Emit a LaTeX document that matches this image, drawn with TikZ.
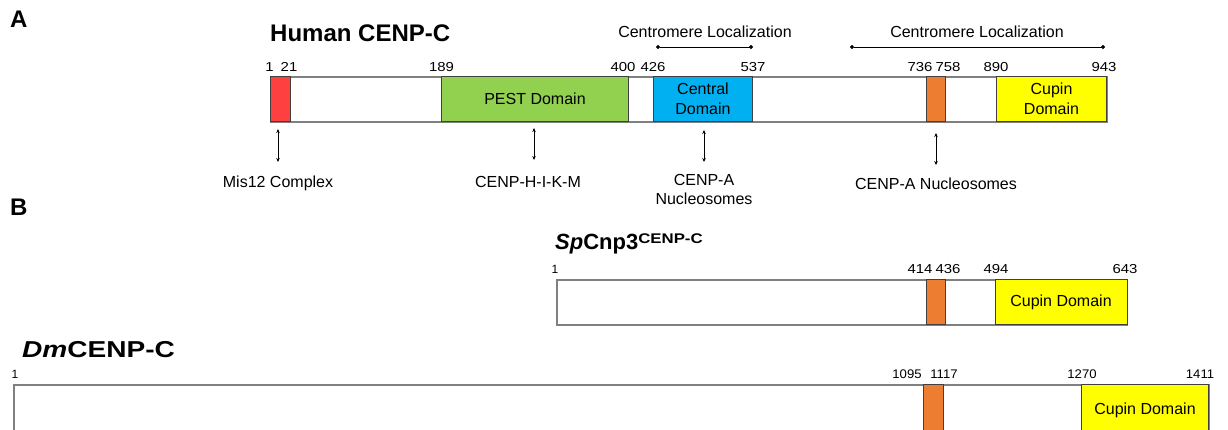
\documentclass[tikz,border=0pt]{standalone}
\usepackage{fontspec}
\usepackage{graphicx}
\setmainfont{Liberation Sans}
\usetikzlibrary{arrows.meta,calc}
\definecolor{cred}{RGB}{255,64,64}
\definecolor{cgreen}{RGB}{146,208,80}
\definecolor{cblue}{RGB}{0,176,240}
\definecolor{corange}{RGB}{237,125,49}
\definecolor{cyellow}{RGB}{255,255,0}
\definecolor{cgray}{RGB}{128,128,128}
\definecolor{cdark}{RGB}{64,64,64}
\newcommand{\wnum}[1]{\scalebox{1.15}[1]{#1}}
\newcommand{\wdm}[1]{\scalebox{1.05}[1]{#1}}
\begin{document}
\begin{tikzpicture}[x=1pt,y=-1pt,
  bar/.style={draw=cgray, line width=1.5pt, fill=white, minimum height=45, inner sep=0pt, anchor=north west},
  dom/.style={draw=cdark, line width=1pt, minimum height=45, inner sep=0pt, anchor=north west,
              font=\fontsize{16}{19.5}\selectfont, align=center},
  num/.style={font=\fontsize{13}{15}\selectfont, anchor=base, inner sep=0pt},
  numsmall/.style={font=\fontsize{12}{14}\selectfont, anchor=base, inner sep=0pt},
  lab/.style={font=\fontsize{16}{19}\selectfont, anchor=base, inner sep=0pt, align=center},
  ttl/.style={font=\fontsize{24}{28}\selectfont\bfseries, anchor=base west, inner sep=0pt},
  panel/.style={font=\fontsize{24}{28}\selectfont\bfseries, anchor=base west, inner sep=0pt},
  dbl/.style={{Stealth[length=4pt,width=3.5pt]}-{Stealth[length=4pt,width=3.5pt]}, line width=0.8pt},
  loc/.style={{Circle[length=4pt]}-{Circle[length=4pt]}, line width=1pt}
]
\useasboundingbox (0,0) rectangle (1228,429);

% ---------- Panel A ----------
\node[panel] (pA) at (10,27) {A};
\node[ttl] (thum) at (270,41) {Human CENP-C};

\node[lab] (cl1) at (705,37) {Centromere Localization};
\node[lab] (cl2) at (977,37) {Centromere Localization};
\coordinate (cl1a) at (656,47);
\coordinate (cl1b) at (753,47);
\coordinate (cl2a) at (850,47);
\coordinate (cl2b) at (1105,47);
\draw[loc] (cl1a) -- (cl1b);
\draw[loc] (cl2a) -- (cl2b);

\node[bar, minimum width=836] (hbar) at (270,76) {};
\node[dom, fill=cred, minimum width=19.5] (hred) at (270,76) {};
\node[dom, fill=cgreen, minimum width=187] (hgreen) at (441,76) {PEST Domain};
\node[dom, fill=cblue, minimum width=99] (hblue) at (653,76) {Central\\Domain};
\node[dom, fill=corange, minimum width=19] (horange) at (926,76) {};
\node[dom, fill=cyellow, minimum width=110] (hyellow) at (996,76) {Cupin\\Domain};

\node[num] (n1) at (269.5,71) {\wnum{1}};
\node[num] (n21) at (289,71) {\wnum{21}};
\node[num] (n189) at (441.5,71) {\wnum{189}};
\node[num] (n400) at (623,71) {\wnum{400}};
\node[num] (n426) at (653,71) {\wnum{426}};
\node[num] (n537) at (753,71) {\wnum{537}};
\node[num] (n736) at (920,71) {\wnum{736}};
\node[num] (n758) at (948,71) {\wnum{758}};
\node[num] (n890) at (996,71) {\wnum{890}};
\node[num] (n943) at (1104,71) {\wnum{943}};

\node[lab] (mis) at (278,187) {Mis12 Complex};
\node[lab] (hikm) at (528,187) {CENP-H-I-K-M};
\node[lab] (cena) at (704,204) {CENP-A\\Nucleosomes};
\node[lab] (cenb) at (936,189) {CENP-A Nucleosomes};

\coordinate (a1t) at (278,129);
\coordinate (a1b) at (278,162);
\coordinate (a2t) at (534,128);
\coordinate (a2b) at (534,160);
\coordinate (a3t) at (704,130);
\coordinate (a3b) at (704,162);
\coordinate (a4t) at (936,133);
\coordinate (a4b) at (936,165);
\draw[dbl] (a1t) -- (a1b);
\draw[dbl] (a2t) -- (a2b);
\draw[dbl] (a3t) -- (a3b);
\draw[dbl] (a4t) -- (a4b);

% ---------- Panel B ----------
\node[panel] (pB) at (10,215) {B};

\node[ttl, font=\fontsize{22}{26}\selectfont\bfseries] (tsp) at (555,249)
  {\textit{Sp}Cnp3\raisebox{6pt}{\scalebox{1.2}[1]{\fontsize{14}{16}\selectfont\bfseries CENP-C}}};

\node[bar, minimum width=570] (sbar) at (556,279) {};
\node[dom, fill=corange, minimum width=19] (sorange) at (926,279) {};
\node[dom, fill=cyellow, minimum width=132] (syellow) at (994.5,279) {Cupin Domain};

\node[numsmall] (s1) at (555,273) {1};
\node[num] (s414) at (920,273) {\wnum{414}};
\node[num] (s436) at (948,273) {\wnum{436}};
\node[num] (s494) at (996,273) {\wnum{494}};
\node[num] (s643) at (1125,273) {\wnum{643}};

\node[ttl, font=\fontsize{23}{27}\selectfont\bfseries] (tdm) at (22,357)
  {\scalebox{1.22}[1]{\textit{Dm}CENP-C}};

\node[bar, minimum width=1195, minimum height=60] (dbar) at (13,384) {};
\node[dom, fill=corange, minimum width=20, minimum height=60] (dorange) at (923,384) {};
\node[dom, fill=cyellow, minimum width=127, minimum height=60] (dyellow) at (1081,384) {};
\node[lab] (dcupin) at (dyellow.north |- 0,414) {Cupin Domain};

\node[numsmall] (d1) at (15,378) {1};
\node[num, font=\fontsize{12.5}{14}\selectfont] (d1095) at (907,378) {\wdm{1095}};
\node[num, font=\fontsize{12.5}{14}\selectfont] (d1117) at (944,378) {\wdm{1117}};
\node[num, font=\fontsize{12.5}{14}\selectfont] (d1270) at (1082,378) {\wdm{1270}};
\node[num, font=\fontsize{12.5}{14}\selectfont] (d1411) at (1200,378) {\wdm{1411}};
\end{tikzpicture}
\end{document}
